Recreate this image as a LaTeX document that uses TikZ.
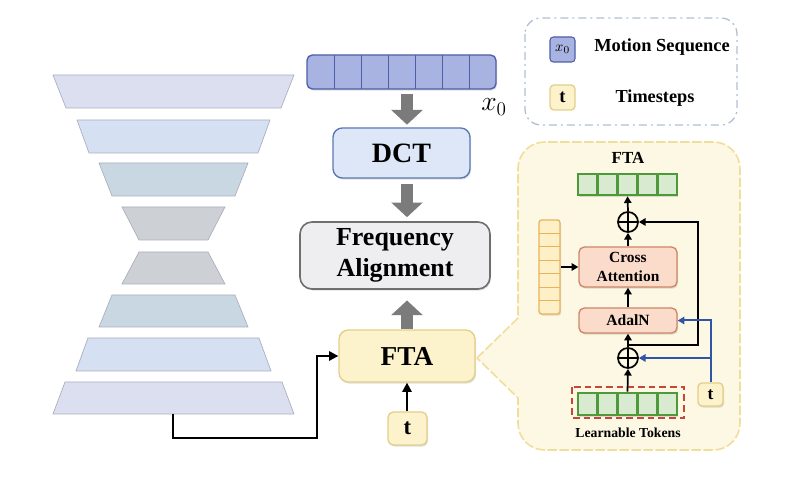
\documentclass[tikz,border=0pt]{standalone}
\usepackage{fontspec}
\setmainfont{Liberation Serif}
\usetikzlibrary{arrows.meta,shadows}
\definecolor{trA}{HTML}{DCDFF0}
\definecolor{trB}{HTML}{D5E0F2}
\definecolor{trC}{HTML}{C9D7E3}
\definecolor{trD}{HTML}{CDD1D6}
\definecolor{trE}{HTML}{A9AEBB}
\definecolor{seqF}{HTML}{A8B3E2}
\definecolor{seqE}{HTML}{4C5FA6}
\definecolor{dctF}{HTML}{DEE7F8}
\definecolor{dctE}{HTML}{5A79B3}
\definecolor{faF}{HTML}{EEEEF0}
\definecolor{faE}{HTML}{6F6F6F}
\definecolor{ftaF}{HTML}{FCF2CC}
\definecolor{ftaE}{HTML}{E3CF8A}
\definecolor{calF}{HTML}{FDF8E3}
\definecolor{calE}{HTML}{EFDF9A}
\definecolor{legE}{HTML}{B3BFD3}
\definecolor{grF}{HTML}{D8EBD1}
\definecolor{grE}{HTML}{4E9A3A}
\definecolor{peF}{HTML}{FBDCCB}
\definecolor{peE}{HTML}{CF8667}
\definecolor{yeF}{HTML}{FDEFC6}
\definecolor{yeE}{HTML}{E9B35E}
\definecolor{blu}{HTML}{2F56A6}
\definecolor{redd}{HTML}{C6463A}
\definecolor{garr}{HTML}{7B7B7B}
\begin{document}
\begin{tikzpicture}[x=0.75pt,y=-0.75pt,
  sz/.style 2 args={minimum width={#1*0.75pt},minimum height={#2*0.75pt}},
  box/.style={draw, inner sep=0pt, align=center, font=\bfseries},
  shad/.style={drop shadow={opacity=0.25, shadow xshift=0.8pt, shadow yshift=-1.2pt}},
  trap/.style={draw=trE, line width=0.5pt},
  garrow/.style={draw=garr, line width=9.5pt, -{Triangle[width=23pt,length=11pt]}},
  blk/.style={draw=black, line width=1.3pt, -{Triangle[width=5.5pt,length=5pt]}},
  bluearr/.style={draw=blu, line width=1.5pt, -{Triangle[width=5.5pt,length=5pt]}},
  bigarr/.style={draw=black, line width=1.6pt, -{Triangle[width=7pt,length=7pt]}},
  oplusnode/.style={circle, draw, line width=1.3pt, fill=calF, minimum size=15pt, inner sep=0pt,
    path picture={\draw[line width=1.3pt] (path picture bounding box.north) -- (path picture bounding box.south)
      (path picture bounding box.west) -- (path picture bounding box.east);}},
  greenbar/.style={box, fill=grF, draw=grE, line width=2pt, sz={99}{21}},
  peach/.style={box, fill=peF, draw=peE, line width=1pt, rounded corners=4pt, shad},
  tnode/.style={box, fill=ftaF, draw=ftaE, line width=1pt, rounded corners=3pt}
]
\useasboundingbox (0,0) rectangle (794,491);

% ---------- trapezoids ----------
\path[trap, fill=trA] (53,75) -- (294,75) -- (281,108) -- (66,108) -- cycle;
\path[trap, fill=trB] (77,120) -- (270,120) -- (258,153) -- (89,153) -- cycle;
\path[trap, fill=trC] (99,163) -- (248,163) -- (235,196) -- (112,196) -- cycle;
\path[trap, fill=trD] (122,207) -- (225,207) -- (208,240) -- (139,240) -- cycle;
\path[trap, fill=trD] (139,252) -- (208,252) -- (225,284) -- (122,284) -- cycle;
\path[trap, fill=trC] (112,295) -- (235,295) -- (248,327) -- (99,327) -- cycle;
\path[trap, fill=trB] (88,338) -- (259,338) -- (271,371) -- (76,371) -- cycle;
\path[trap, fill=trA] (65,382) -- (282,382) -- (294,414) -- (53,414) -- cycle;
\coordinate (trapout) at (173,414);

% ---------- legend ----------
\draw[legE, line width=1pt, rounded corners=12pt, dash pattern=on 6pt off 3pt on 1.5pt off 3pt]
  (525,18) rectangle (737,125);
\node[box, fill=seqF, draw=seqE, line width=0.8pt, rounded corners=2.5pt, sz={25}{25}, font=\fontsize{11}{12}\selectfont] (legx) at (562.5,49.5) {$x_0$};
\node[font=\bfseries\fontsize{13.8}{15}\selectfont] (legxt) at (662,47) {Motion Sequence};
\node[tnode, sz={25}{25}, font=\bfseries\fontsize{14}{15}\selectfont] (legt) at (562.5,97.5) {t};
\node[font=\bfseries\fontsize{13.7}{15}\selectfont] (legtt) at (655,98) {Timesteps};

% ---------- callout ----------
\path[fill=calF, draw=calE, line width=1.2pt, dash pattern=on 7pt off 2pt]
  (477,358) -- (518,318) [rounded corners=20pt] -- (518,142) -- (740,142) -- (740,450) -- (518,450) [sharp corners] -- (518,398) -- cycle;

% ---------- main column ----------
\node[box, fill=seqF, draw=seqE, line width=1pt, rounded corners=4pt, sz={189}{34}, shad] (seq) at (401.5,72) {};
\foreach \i in {1,...,6} \draw[seqE, line width=0.7pt] ({307+\i*27},55) -- ({307+\i*27},89);
\node[font=\fontsize{22}{24}\selectfont] (xlab) at (494,107) {$x_0$};

\node[box, fill=dctF, draw=dctE, line width=1pt, rounded corners=7pt, sz={137}{50}, shad, font=\bfseries\fontsize{21}{24}\selectfont] (dct) at (401.5,153) {DCT};
\node[box, fill=faF, draw=faE, line width=1.2pt, rounded corners=9pt, sz={190}{67}, shad, font=\bfseries\fontsize{19.5}{23.25}\selectfont] (fa) at (395,255.5) {Frequency\\Alignment};
\node[box, fill=ftaF, draw=ftaE, line width=1pt, rounded corners=7pt, sz={136}{52}, shad, font=\bfseries\fontsize{20.5}{23}\selectfont] (fta) at (407,356) {FTA};
\node[tnode, sz={39}{33}, rounded corners=4pt, shad, font=\bfseries\fontsize{17}{18}\selectfont] (tb) at (407.5,428.5) {t};

\draw[garrow, shorten <=3pt, shorten >=2pt] (seq.south -| fta.center) -- (dct.north -| fta.center);
\draw[garrow, shorten <=4pt, shorten >=3pt] (dct.south -| fta.center) -- (fa.north -| fta.center);
\draw[garrow, shorten >=8pt] (fta.north) -- (fa.south -| fta.center);
\draw[bigarr] (tb.north -| fta.center) -- (fta.south);
\coordinate (bend) at (317,438);
\draw[bigarr] (trapout) |- (bend) |- (fta.west);

% ---------- callout content ----------
\node[font=\bfseries\fontsize{12.7}{14}\selectfont] (ftat) at (628,158) {FTA};
\node[greenbar, shad] (gtop) at (627.5,184.5) {};
\foreach \i in {1,...,4} \draw[grE, line width=2pt] ({578+\i*19.8},174) -- ({578+\i*19.8},195);
\node[oplusnode] (op1) at (628,222) {};
\node[peach, sz={98}{40}, font=\bfseries\fontsize{11.6}{14}\selectfont] (ca) at (628,267) {Cross\\Attention};
\node[box, fill=yeF, draw=yeE, line width=1pt, rounded corners=2pt, sz={21}{94}, shad] (ybar) at (549.5,267) {};
\foreach \i in {1,...,6} \draw[yeE, line width=0.8pt] (539,{220+\i*94/7}) -- (560,{220+\i*94/7});
\node[peach, sz={98}{25}, font=\bfseries\fontsize{11.7}{13}\selectfont] (ada) at (628,320.5) {AdalN};
\node[oplusnode] (op2) at (628,358) {};
\draw[redd, line width=1.3pt, dash pattern=on 5pt off 3pt] (572,387) rectangle (684,418);
\node[greenbar, sz={99}{22}, shad] (gbot) at (627.5,404) {};
\foreach \i in {1,...,4} \draw[grE, line width=2pt] ({578+\i*19.8},393) -- ({578+\i*19.8},415);
\node[font=\bfseries\fontsize{10.3}{12}\selectfont] (lt) at (628,433) {Learnable Tokens};
\node[tnode, sz={25}{23}, shad, font=\bfseries\fontsize{13}{14}\selectfont] (ts) at (710.5,394.5) {t};

\draw[blk] (gbot.north) -- (op2.south);
\draw[blk] (op2.north) -- (ada.south);
\draw[blk] (ada.north) -- (ca.south);
\draw[blk] (ca.north) -- (op1.south);
\draw[blk] (op1.north) -- (gtop.south);
\draw[blk] (ybar.east) -- (ca.west);
\coordinate (skA) at (628,345);
\coordinate (skB) at (698,222);
\draw[blk] (skA) -| (skB) -- (op1.east);
\draw[bluearr] (ts.north) |- (ada.east);
\draw[bluearr] (ts.north |- op2) -- (op2.east);
\end{tikzpicture}
\end{document}
